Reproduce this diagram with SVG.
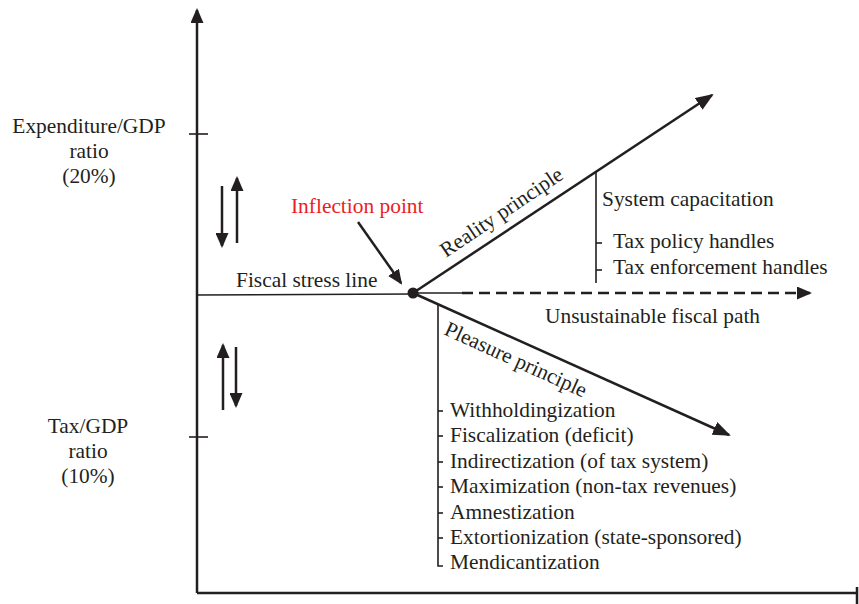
<svg xmlns="http://www.w3.org/2000/svg" width="859" height="604" viewBox="0 0 859 604">
<style>
text{font-family:"Liberation Serif","Times New Roman",serif;font-size:21.4px;fill:#231f20}
.red{fill:#ed1c24}
.mid{text-anchor:middle}
.ax{stroke:#231f20;stroke-width:2.5;fill:none}
.thin{stroke:#231f20;stroke-width:1.6;fill:none}
.dash{stroke:#231f20;stroke-width:2.5;fill:none;stroke-dasharray:11 6}
</style>
<defs>
<marker id="ah" markerUnits="userSpaceOnUse" markerWidth="18" markerHeight="14" refX="16" refY="7" orient="auto" viewBox="0 0 18 14">
<path d="M0,0 L18,7 L0,14 z" fill="#231f20"/>
</marker>
<marker id="ahs" markerUnits="userSpaceOnUse" markerWidth="15" markerHeight="13" refX="13" refY="6.5" orient="auto" viewBox="0 0 15 13">
<path d="M0,0 L15,6.5 L0,13 z" fill="#231f20"/>
</marker>
</defs>
<rect width="859" height="604" fill="#fff"/>
<g id="connectors">
<line class="ax" x1="197" y1="593" x2="197" y2="10" marker-end="url(#ahs)"/>
<line class="ax" x1="197" y1="593" x2="857" y2="593"/>
<line class="ax" x1="857" y1="587" x2="857" y2="604"/>
<line class="thin" x1="189" y1="134" x2="208" y2="134"/>
<line class="thin" x1="189" y1="437" x2="208" y2="437"/>
<line class="ax" x1="222" y1="186" x2="222" y2="246" marker-end="url(#ahs)"/>
<line class="ax" x1="237" y1="243" x2="237" y2="178" marker-end="url(#ahs)"/>
<line class="ax" x1="223" y1="410" x2="223" y2="345" marker-end="url(#ahs)"/>
<line class="ax" x1="236" y1="347" x2="236" y2="406" marker-end="url(#ahs)"/>
<line class="thin" x1="197" y1="295" x2="413" y2="294"/>
<line class="ax" x1="358" y1="222" x2="401" y2="283" marker-end="url(#ahs)"/>
<line class="ax" x1="413" y1="293" x2="712" y2="95" marker-end="url(#ah)"/>
<line class="ax" x1="413" y1="293" x2="729" y2="435" marker-end="url(#ah)"/>
<line class="thin" x1="413" y1="293" x2="462" y2="293"/>
<line class="dash" x1="462" y1="293" x2="810" y2="293" marker-end="url(#ahs)"/>
<line class="thin" x1="596" y1="172" x2="596" y2="283"/>
<line class="thin" x1="596" y1="243" x2="602" y2="243"/>
<line class="thin" x1="596" y1="270" x2="602" y2="270"/>
<polyline class="thin" points="438,304 438,566 443,566"/>
<g class="thin">
<line x1="438" y1="411" x2="443" y2="411"/>
<line x1="438" y1="436" x2="443" y2="436"/>
<line x1="438" y1="462" x2="443" y2="462"/>
<line x1="438" y1="487" x2="443" y2="487"/>
<line x1="438" y1="513" x2="443" y2="513"/>
<line x1="438" y1="538" x2="443" y2="538"/>
</g>
</g>
<g id="inflection-point">
<circle cx="413" cy="293" r="5.5" fill="#231f20"/>
<text class="red" x="291" y="213">Inflection point</text>
</g>
<g id="expenditure-label">
<text class="mid" x="89" y="133">Expenditure/GDP</text>
<text class="mid" x="89" y="158">ratio</text>
<text class="mid" x="89" y="183">(20%)</text>
</g>
<g id="tax-label">
<text class="mid" x="88" y="433">Tax/GDP</text>
<text class="mid" x="88" y="458">ratio</text>
<text class="mid" x="88" y="483">(10%)</text>
</g>
<g id="fiscal-stress-line"><text x="236" y="287">Fiscal stress line</text></g>
<g id="reality-principle"><text transform="translate(446,258) rotate(-34)">Reality principle</text></g>
<g id="pleasure-principle"><text transform="translate(443,334) rotate(24.5)">Pleasure principle</text></g>
<g id="unsustainable-path"><text x="545" y="323">Unsustainable fiscal path</text></g>
<g id="system-capacitation">
<text x="602" y="206">System capacitation</text>
<text x="613" y="248">Tax policy handles</text>
<text x="613" y="274">Tax enforcement handles</text>
</g>
<g id="pleasure-list">
<text x="450" y="417">Withholdingization</text>
<text x="450" y="442">Fiscalization (deficit)</text>
<text x="450" y="468">Indirectization (of tax system)</text>
<text x="450" y="493">Maximization (non-tax revenues)</text>
<text x="450" y="519">Amnestization</text>
<text x="450" y="544">Extortionization (state-sponsored)</text>
<text x="450" y="569">Mendicantization</text>
</g>
</svg>
